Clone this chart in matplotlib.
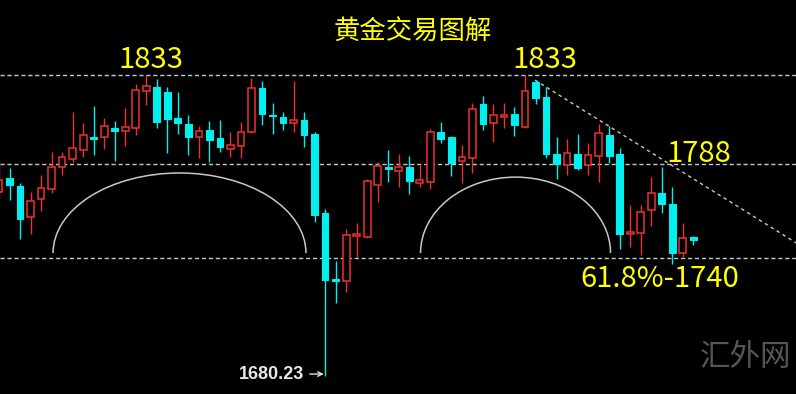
import matplotlib.pyplot as plt
import numpy as np
from matplotlib.patches import Arc

plt.rcParams['font.family'] = ['Noto Sans CJK SC', 'DejaVu Sans']

# OHLC (gold, price)
opens = [1773.5, 1780.6, 1776.6, 1760.8, 1770.0, 1775.1, 1786.2, 1790.3, 1794.9, 1801.5,
         1801.5, 1806.1, 1804.5, 1806.1, 1824.9, 1826.9, 1824.3, 1811.1, 1808.1, 1801.5,
         1805.0, 1801.0, 1795.4, 1796.9, 1804.0, 1826.4, 1812.7, 1811.6, 1808.6, 1810.1,
         1803.0, 1762.9, 1729.3, 1728.3, 1751.2, 1750.7, 1777.1, 1786.2, 1784.2, 1786.2,
         1778.1, 1778.6, 1804.0, 1801.5, 1789.3, 1790.8, 1818.2, 1808.6, 1811.6, 1813.2,
         1806.6, 1829.4, 1821.8, 1792.8, 1787.2, 1792.8, 1787.2, 1791.8, 1802.5, 1792.8,
         1752.2, 1752.7, 1764.4, 1773.0, 1767.4, 1742.5, 1750.7]
highs = [1789.8, 1785.7, 1778.1, 1773.5, 1782.2, 1793.9, 1793.9, 1814.2, 1808.6, 1817.2,
         1811.1, 1809.6, 1816.2, 1828.4, 1833.0, 1831.0, 1826.9, 1824.3, 1812.7, 1807.1,
         1809.6, 1810.1, 1804.0, 1809.1, 1831.5, 1829.9, 1818.8, 1814.2, 1829.9, 1814.2,
         1804.0, 1764.9, 1738.5, 1754.7, 1757.8, 1780.1, 1788.8, 1794.9, 1792.8, 1791.8,
         1787.2, 1805.5, 1809.1, 1802.0, 1797.4, 1818.8, 1822.3, 1818.2, 1818.8, 1816.7,
         1833.0, 1830.4, 1826.9, 1801.5, 1800.5, 1803.0, 1798.4, 1808.1, 1807.1, 1795.9,
         1766.9, 1766.9, 1781.1, 1786.2, 1776.1, 1757.8, 1751.2]
lows = [1770.5, 1769.5, 1749.6, 1752.2, 1763.9, 1773.0, 1782.2, 1788.8, 1791.3, 1792.3,
        1795.4, 1789.3, 1796.9, 1802.5, 1817.7, 1806.1, 1793.3, 1803.0, 1792.3, 1790.8,
        1788.8, 1793.9, 1791.3, 1790.8, 1803.5, 1807.6, 1803.0, 1805.0, 1804.0, 1796.4,
        1758.3, 1680.23, 1717.1, 1722.7, 1740.5, 1750.1, 1768.4, 1778.6, 1776.1, 1772.5,
        1776.1, 1775.1, 1798.4, 1781.7, 1778.1, 1783.2, 1805.0, 1798.9, 1806.1, 1802.0,
        1806.1, 1818.2, 1790.8, 1780.1, 1782.2, 1784.7, 1782.2, 1778.6, 1788.3, 1744.6,
        1745.6, 1741.5, 1756.2, 1762.9, 1736.9, 1740.5, 1746.6]
closes = [1779.6, 1777.1, 1759.8, 1769.0, 1775.6, 1786.2, 1791.3, 1795.9, 1802.5, 1800.5,
          1807.1, 1804.5, 1806.6, 1825.4, 1827.4, 1809.1, 1810.6, 1808.6, 1801.5, 1804.5,
          1800.0, 1796.4, 1797.4, 1804.0, 1826.4, 1813.2, 1812.1, 1808.6, 1810.1, 1802.5,
          1761.8, 1728.8, 1728.3, 1751.7, 1752.2, 1779.1, 1786.7, 1785.2, 1786.2, 1779.1,
          1779.6, 1804.0, 1800.5, 1788.3, 1791.3, 1815.7, 1808.1, 1812.7, 1812.7, 1807.6,
          1824.9, 1821.3, 1792.8, 1787.8, 1793.3, 1785.7, 1792.3, 1803.5, 1791.8, 1752.2,
          1753.2, 1763.4, 1773.0, 1767.4, 1742.5, 1750.1, 1749.1]

levels = [1833, 1788, 1740]
low_mark = 1680.23


def create_gold_chart():
    fig = plt.figure(figsize=(7.96, 3.94), dpi=100, facecolor='black')
    ax = fig.add_axes([0, 0, 1, 1])
    ax.set_facecolor('black')
    ax.set_axis_off()

    o = np.array(opens)
    h = np.array(highs)
    l = np.array(lows)
    c = np.array(closes)
    x = np.arange(len(o))
    up = c >= o

    red = '#f03030'
    cyan = '#00f0f0'
    cols = np.where(up, red, cyan)

    # wicks
    ax.vlines(x, l, h, colors=cols, linewidth=1.0, zorder=2)
    # bodies
    body = np.maximum(np.abs(c - o), 0.8)
    bottom = np.minimum(o, c)
    ax.bar(x[up], body[up], bottom=bottom[up], width=0.64,
           facecolor='black', edgecolor=red, linewidth=1.1, zorder=3)
    ax.bar(x[~up], body[~up], bottom=bottom[~up], width=0.64,
           facecolor=cyan, edgecolor=cyan, linewidth=0.8, zorder=3)

    # support / resistance levels
    for lv in levels:
        ax.axhline(lv, color='#c8c8c8', linewidth=1.0, linestyle=(0, (3, 2)), zorder=1)

    # falling trend line from the second top
    tx = np.array([50.95, 75.8])
    ty = np.array([1830.4, 1747.6])
    ax.plot(tx, ty, color='#c8c8c8', linewidth=1.0, linestyle=(0, (2.5, 2.5)), zorder=1)

    # the two rounded bottoms (arcs)
    ax.add_patch(Arc((17.16, 1742.5), 2 * 12.02, 2 * 40.7, theta1=0, theta2=180,
                     color='#c8c8c8', linewidth=1.1, zorder=1))
    ax.add_patch(Arc((49.1, 1742.5), 2 * 9.03, 2 * 38.6, theta1=0, theta2=180,
                     color='#c8c8c8', linewidth=1.1, zorder=1))

    ax.set_xlim(0.095, 75.76)
    ax.set_ylim(1670.9, 1871.1)

    yellow = '#ffff00'
    ax.text(0.518, 0.918, '黄金交易图解', transform=ax.transAxes, color=yellow,
            fontsize=19, ha='center', va='center')
    ax.text(14.4, 1840.8, '1833', color=yellow, fontsize=21, ha='center', va='center')
    ax.text(51.9, 1840.8, '1833', color=yellow, fontsize=21, ha='center', va='center')
    ax.text(66.5, 1793.0, '1788', color=yellow, fontsize=21, ha='center', va='center')
    ax.text(62.8, 1729.5, '61.8%-1740', color=yellow, fontsize=21, ha='center', va='center')

    # lowest price marker
    ax.annotate(f'{low_mark:.2f}', xy=(31, low_mark + 0.8), xytext=(-15, 0),
                textcoords='offset points', ha='right', va='center',
                color='#e8e8e8', fontsize=13, fontweight='bold',
                family=['Liberation Sans', 'DejaVu Sans'],
                arrowprops=dict(arrowstyle='->', color='#e8e8e8', lw=1.0,
                                shrinkA=2, shrinkB=1, mutation_scale=8))

    # watermark
    ax.text(0.937, 0.092, '汇外网', transform=ax.transAxes, color='#555555',
            fontsize=22, ha='center', va='center', fontweight='light')

    fig.savefig('out.png', dpi=100, facecolor='black')


if __name__ == "__main__":
    create_gold_chart()
